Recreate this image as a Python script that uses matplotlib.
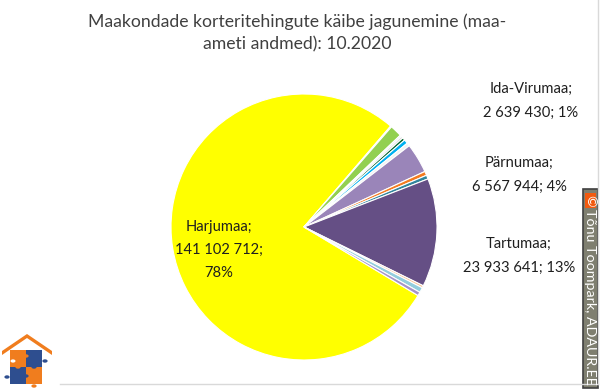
import matplotlib
matplotlib.use("Agg")
import matplotlib.pyplot as plt
from matplotlib.patches import Rectangle, Circle, Polygon
import matplotlib.lines as mlines

plt.rcParams['font.family'] = ['Lato', 'DejaVu Sans']

counties = ["Harjumaa", "Hiiumaa", "Ida-Virumaa", "Jõgevamaa", "Järvamaa", "Läänemaa",
            "Lääne-Virumaa", "Põlvamaa", "Pärnumaa", "Raplamaa", "Saaremaa", "Tartumaa",
            "Valgamaa", "Viljandimaa", "Võrumaa"]
turnover = [141102712, 250000, 2639430, 350000, 450000, 600000,
            900000, 700000, 6567944, 900000, 850000, 23933641,
            500000, 1100000, 800000]
colors = ["#FFFF00", "#E6E0EC", "#92D050", "#DCE6F2", "#D9D9D9", "#00602B",
          "#00B0F0", "#F2F2F2", "#9A85B9", "#F47B20", "#31859C", "#654F85",
          "#FAC090", "#93CDDD", "#A593C8"]
labelled = ["Harjumaa", "Ida-Virumaa", "Pärnumaa", "Tartumaa"]
title = "Maakondade korteritehingute käibe jagunemine (maa-\nameti andmed): 10.2020"

W, H = 600, 392
fig = plt.figure(figsize=(6.0, 3.92), dpi=100)

def fx(x):
    return x / W

def fy(y):
    return 1 - y / H

cx, cy, r = 304, 227, 133
ax = fig.add_axes([fx(cx - r), fy(cy + r), 2 * r / W, 2 * r / H])
total = sum(turnover)
start = -31.0
ax.pie(turnover, colors=colors, startangle=start, counterclock=False, radius=1,
       wedgeprops=dict(edgecolor="white", linewidth=0.8))
ax.set_xlim(-1, 1)
ax.set_ylim(-1, 1)
ax.set_aspect("auto")
ax.axis("off")

def fmt(v):
    return f"{v:,}".replace(",", " ")

label_pos = {"Harjumaa": (219, 250), "Ida-Virumaa": (531, 101),
             "Pärnumaa": (519, 175), "Tartumaa": (519, 256)}
for name in labelled:
    i = counties.index(name)
    v = turnover[i]
    pct = round(100 * v / total)
    if name == "Harjumaa":
        s = f"{name};\n{fmt(v)};\n{pct}%"
    else:
        s = f"{name};\n{fmt(v)}; {pct}%"
    x, y = label_pos[name]
    fig.text(fx(x), fy(y), s, ha="center", va="center", fontsize=10.6,
             color="#1F1F1F", linespacing=1.85)

fig.text(fx(297), fy(33), title, ha="center", va="center", fontsize=12.7,
         color="#404040", linespacing=1.5)

# chart border lines
fig.add_artist(mlines.Line2D([fx(598), fx(598)], [fy(0), fy(384)], color="#D9D9D9", lw=1))
fig.add_artist(mlines.Line2D([fx(60), fx(598)], [fy(384), fy(384)], color="#D9D9D9", lw=1))

# copyright box
fig.add_artist(Rectangle((fx(582.5), fy(388)), 15 / W, 199 / H, facecolor="#7F7F70",
                         edgecolor="#404040", lw=1.2))
fig.add_artist(Rectangle((fx(584.5), fy(208)), 11.5 / W, 15 / H, facecolor="#F25A0F",
                         edgecolor="none"))
fig.text(fx(590.3), fy(200.5), "©", ha="center", va="center", fontsize=10, color="white",
         rotation=-90)
fig.text(fx(590.5), fy(297), "Tõnu Toompark, ADAUR.EE", ha="center", va="center",
         fontsize=10.3, color="white", rotation=-90)

# logo
orange = "#F07D1E"
blue = "#2E4E8F"
fig.add_artist(Polygon([(fx(2), fy(351)), (fx(27), fy(334)), (fx(52), fy(351)),
                        (fx(52), fy(355)), (fx(27), fy(338)), (fx(2), fy(355))],
                       closed=True, facecolor=orange, edgecolor="none"))
cells = [(10, 350, orange), (26, 350, blue), (10, 367, blue), (26, 367, orange)]
for x0, y0, c in cells:
    fig.add_artist(Rectangle((fx(x0), fy(y0 + 17)), 16 / W, 17 / H, facecolor=c,
                             edgecolor="none"))
knobs = [(26, 356, orange), (18, 367, orange), (34, 367, blue), (26, 376, blue),
         (7, 377, blue), (45, 361, blue), (34, 386, orange)]
for kx, ky, c in knobs:
    fig.add_artist(Circle((fx(kx), fy(ky)), 2.6 / W, facecolor=c, edgecolor="none"))
fig.add_artist(Circle((fx(13), fy(361)), 2.5 / W, facecolor="white", edgecolor="none"))

fig.savefig("out.png", dpi=100)
